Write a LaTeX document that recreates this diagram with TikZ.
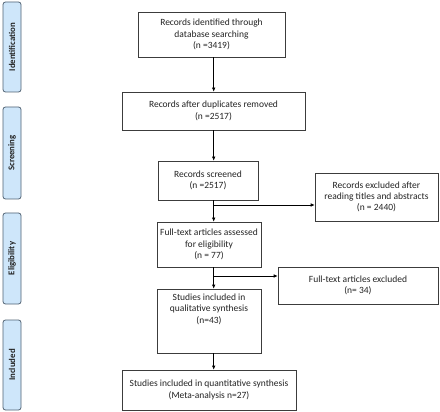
\documentclass[tikz,border=0pt]{standalone}
\usepackage{fontspec}
\setmainfont{Carlito}
\usetikzlibrary{positioning,arrows.meta}
\definecolor{stagefill}{RGB}{206,230,250}
\definecolor{stagedraw}{RGB}{80,98,115}
\definecolor{boxdraw}{RGB}{60,60,60}
\definecolor{inktext}{RGB}{35,35,35}
\begin{document}
\begin{tikzpicture}[
  x=1pt,y=-1pt,
  font=\fontsize{9.5}{11.3}\selectfont,
  text=inktext,
  stageblock/.style={
    rectangle,
    rounded corners=2.5pt,
    draw=stagedraw,
    thick,
    fill=stagefill,
    rotate=90,
    inner sep=0pt,
    minimum height=18pt,
    font=\fontsize{8.8}{11}\selectfont\bfseries
  },
  flowblock/.style={
    rectangle,
    draw=boxdraw,
    semithick,
    align=center,
    inner sep=2pt
  },
  flowarrow/.style={
    -{Latex[length=4pt,width=3.5pt]},
    semithick
  }]
  \useasboundingbox (0,0) rectangle (440,412);
  % stages
  \node [stageblock,minimum width=90pt] (ident) at (12,47) {Identification};
  \node [stageblock,minimum width=92pt] (screen) at (12,153) {Screening};
  \node [stageblock,minimum width=91pt] (elig) at (12,258.5) {Eligibility};
  \node [stageblock,minimum width=90pt] (incl) at (12,365) {Included};
  % main column
  \node [flowblock,minimum width=147pt,minimum height=45pt] (records) at (211.5,34.5)
    {Records identified through\\database searching\\(n =3419)};
  \node [flowblock,minimum width=183pt,minimum height=38pt] (dupl) at (213.5,111)
    {Records after duplicates removed\\(n =2517)};
  \node [flowblock,minimum width=100pt,minimum height=39pt] (screened) at (208,180.5)
    {Records screened\\(n =2517)};
  \node [flowblock,minimum width=104pt,minimum height=45pt] (fulltext) at (209,244.5)
    {Full-text articles assessed\\for eligibility\\(n = 77)};
  \node [flowblock,minimum width=104pt,minimum height=64pt] (qual) at (209,321) {};
  \node [align=center,inner sep=0pt,below=5pt of qual.north] (qualtext)
    {Studies included in\\qualitative synthesis\\(n=43)};
  \node [flowblock,minimum width=174pt,minimum height=40pt] (quant) at (209,390)
    {Studies included in quantitative synthesis\\(Meta-analysis n=27)};
  % exclusions
  \node [flowblock,minimum width=123pt,minimum height=48pt] (excl1) at (376.5,197)
    {Records excluded after\\reading titles and abstracts\\(n = 2440)};
  \node [flowblock,minimum width=160pt,minimum height=37pt] (excl2) at (358,285.5)
    {Full-text articles excluded\\(n= 34)};
  % arrows
  \coordinate (axis) at (213.7,0);
  \coordinate (split1) at (213.7,205);
  \coordinate (split2) at (213.7,276);
  \draw[flowarrow] (records.south -| axis) -- (dupl.north -| axis);
  \draw[flowarrow] (dupl.south -| axis) -- (screened.north -| axis);
  \draw[flowarrow] (screened.south -| axis) -- (fulltext.north -| axis);
  \draw[flowarrow] (fulltext.south -| axis) -- (qual.north -| axis);
  \draw[flowarrow] (qual.south -| axis) -- (quant.north -| axis);
  \draw[flowarrow] (split1) -- (split1 -| excl1.west);
  \draw[flowarrow] (split2) -- (split2 -| excl2.west);
\end{tikzpicture}
\end{document}
